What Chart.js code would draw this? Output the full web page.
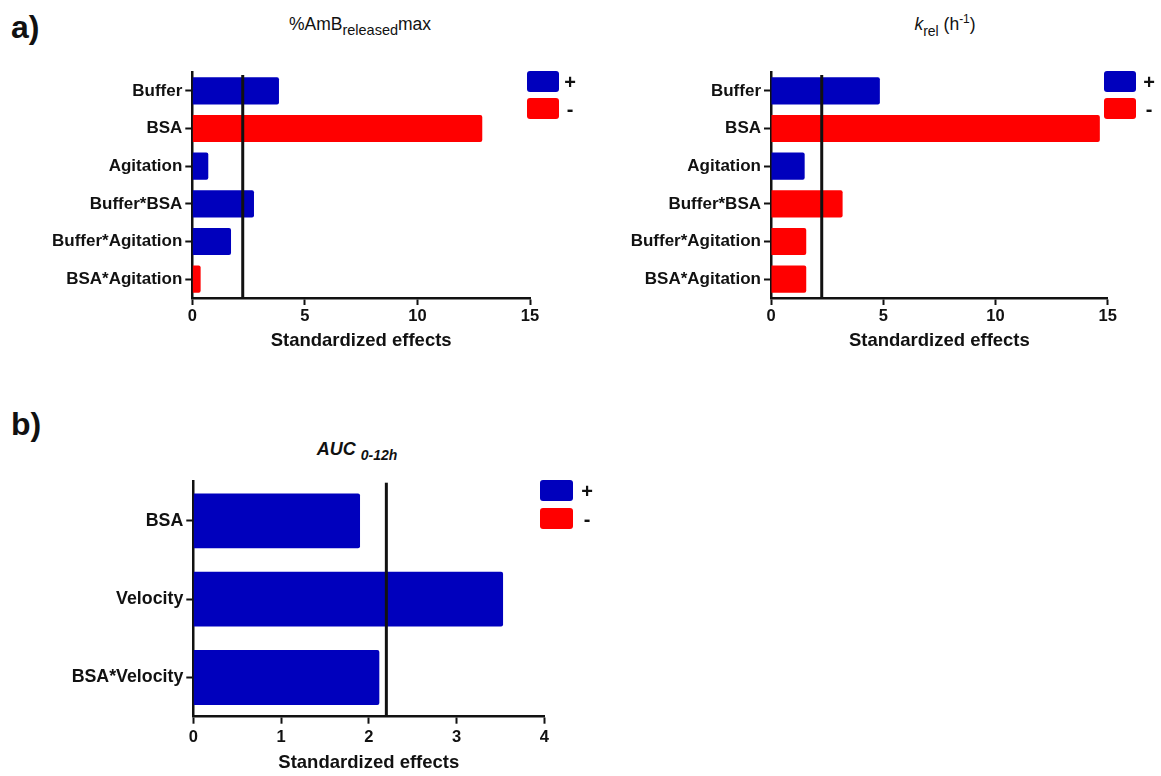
<!DOCTYPE html>
<html><head><meta charset="utf-8">
<script src="https://cdn.jsdelivr.net/npm/chart.js@4.4.1/dist/chart.umd.min.js"></script>
<style>
html,body{margin:0;padding:0;background:#fff}
body{width:1161px;height:776px;position:relative;overflow:hidden;font-family:"Liberation Sans",Arial,sans-serif;color:#111}
canvas{position:absolute}
.panel{position:absolute;font-weight:bold;font-size:32px;line-height:1}
.title{position:absolute;white-space:nowrap;transform:translateX(-50%);line-height:1}
.sw{position:absolute;width:32px;height:21px;border-radius:3px}
.lt{position:absolute;font-weight:bold;font-size:20px;line-height:1;transform:translate(-50%,-50%)}
</style></head><body>

<div class="panel" style="left:11px;top:11px">a)</div>
<div class="panel" style="left:11px;top:408px">b)</div>

<div class="title" style="left:360px;top:16px;font-size:17.5px">%AmB<span style="font-size:14.5px;position:relative;top:5px">released</span>max</div>
<div class="title" style="left:945px;top:16px;font-size:17.5px"><i>k</i><span style="font-size:14px;position:relative;top:6px">rel</span> (h<span style="font-size:12px;position:relative;top:-7px">-1</span>)</div>
<div class="title" style="left:357px;top:440px;font-size:18px;font-weight:bold;font-style:italic">AUC <span style="font-size:14px;position:relative;top:5px">0-12h</span></div>

<canvas id="c1" style="left:0;top:0"></canvas>
<canvas id="c2" style="left:580px;top:0"></canvas>
<canvas id="c3" style="left:0;top:380px"></canvas>

<div id="leg"></div>

<script>
// ---- data ----
const factorsA = ['Buffer','BSA','Agitation','Buffer*BSA','Buffer*Agitation','BSA*Agitation'];
const effectsAmB = [3.85, 12.88, 0.71, 2.74, 1.72, 0.37];
const signsAmB   = ['+','-','+','+','+','-'];
const critAmB = 2.24;

const effectsKrel = [4.85, 14.65, 1.50, 3.19, 1.57, 1.57];
const signsKrel   = ['+','-','+','-','-','-'];
const critKrel = 2.26;

const factorsB = ['BSA','Velocity','BSA*Velocity'];
const effectsAUC = [1.90, 3.53, 2.12];
const signsAUC   = ['+','+','+'];
const critAUC = 2.20;

const xTicksA = [0,5,10,15];
const xTicksB = [0,1,2,3,4];
const legendLabels = ['+','-'];
const legendColors = ['#0000BD','#FF0000'];
const xTitle = 'Standardized effects';

// ---- drawing ----
const FAM = '"Liberation Sans", Arial, sans-serif';
const INK = '#111';

const critLine = {
  id: 'critLine',
  afterDatasetsDraw(chart, args, opts) {
    const x = chart.scales.x.getPixelForValue(opts.value);
    const ctx = chart.ctx;
    ctx.save();
    ctx.strokeStyle = INK;
    ctx.lineWidth = 3;
    ctx.beginPath();
    ctx.moveTo(x, chart.chartArea.top + opts.gap);
    ctx.lineTo(x, chart.chartArea.bottom);
    ctx.stroke();
    ctx.restore();
  }
};

function makeChart(id, w, h, cats, vals, signs, crit, xTicks, area, cfg) {
  const canvas = document.getElementById(id);
  canvas.width = w; canvas.height = h;
  canvas.style.width = w + 'px'; canvas.style.height = h + 'px';
  const datasets = legendLabels.map((lab, k) => ({
    label: lab,
    data: vals.map((v, i) => signs[i] === lab ? v : null),
    backgroundColor: legendColors[k],
    borderWidth: 0,
    borderRadius: 2,
    borderSkipped: 'start',
    barPercentage: cfg.barPct,
    categoryPercentage: 1
  }));
  return new Chart(canvas, {
    type: 'bar',
    data: { labels: cats, datasets },
    options: {
      indexAxis: 'y',
      responsive: false,
      animation: false,
      devicePixelRatio: 1,
      layout: { padding: { left: 0, top: area.top, right: w - area.right, bottom: 0 } },
      plugins: {
        legend: { display: false },
        tooltip: { enabled: false },
        critLine: { value: crit, gap: cfg.gap }
      },
      scales: {
        x: {
          type: 'linear', stacked: true,
          min: xTicks[0], max: xTicks[xTicks.length - 1],
          afterBuildTicks: s => { s.ticks = xTicks.map(v => ({ value: v })); },
          ticks: { font: { family: FAM, size: 16.5, weight: 'bold' }, color: INK, padding: cfg.tickPad },
          grid: { display: true, drawOnChartArea: false, drawTicks: true, tickLength: 7, tickWidth: 2, tickColor: INK, color: INK },
          border: { display: true, color: INK, width: 2.5 },
          title: { display: true, text: xTitle, color: INK,
                   font: { family: FAM, size: 18.5, weight: 'bold' },
                   padding: { top: 0, bottom: cfg.titlePadBottom } },
          afterFit: s => { s.height = h - area.bottom; }
        },
        y: {
          stacked: true, offset: true,
          ticks: { font: { family: FAM, size: cfg.catSize, weight: 'bold' }, color: INK, padding: 3 },
          grid: { display: true, offset: false, drawOnChartArea: false, drawTicks: true, tickLength: 7, tickWidth: 2, tickColor: INK, color: INK },
          border: { display: true, color: INK, width: 2.5 },
          afterFit: s => { s.width = area.left; }
        }
      }
    },
    plugins: [critLine]
  });
}

makeChart('c1', 580, 380, factorsA, effectsAmB, signsAmB, critAmB, xTicksA,
  { left: 192.3, right: 530, top: 72, bottom: 298 }, { barPct: 0.72, gap: 3, tickPad: 2, titlePadBottom: 28, catSize: 17 });
makeChart('c2', 581, 380, factorsA, effectsKrel, signsKrel, critKrel, xTicksA,
  { left: 191, right: 527.7, top: 72, bottom: 298 }, { barPct: 0.72, gap: 3, tickPad: 2, titlePadBottom: 28, catSize: 17 });
makeChart('c3', 620, 396, factorsB, effectsAUC, signsAUC, critAUC, xTicksB,
  { left: 193.3, right: 544.3, top: 101.7, bottom: 336.7 }, { barPct: 0.70, gap: 1, tickPad: 4, titlePadBottom: 2, catSize: 17.8 });

// ---- legends (HTML) ----
const legendSpots = [
  { x: 526.7, y: 71, w: 32, h: 21, dy: 27.3, tx: 570 },
  { x: 1104, y: 71, w: 32, h: 21, dy: 27.3, tx: 1149 },
  { x: 540.3, y: 480, w: 33, h: 21, dy: 28, tx: 587 }
];
const legEl = document.getElementById('leg');
legendSpots.forEach(s => {
  legendLabels.forEach((lab, k) => {
    const sw = document.createElement('div');
    sw.className = 'sw';
    sw.style.left = s.x + 'px'; sw.style.top = (s.y + k * s.dy) + 'px';
    sw.style.width = s.w + 'px'; sw.style.height = s.h + 'px';
    sw.style.background = legendColors[k];
    legEl.appendChild(sw);
    const t = document.createElement('div');
    t.className = 'lt';
    t.textContent = lab;
    t.style.left = s.tx + 'px';
    t.style.top = (s.y + k * s.dy + s.h / 2) + 'px';
    legEl.appendChild(t);
  });
});
</script>
</body></html>
